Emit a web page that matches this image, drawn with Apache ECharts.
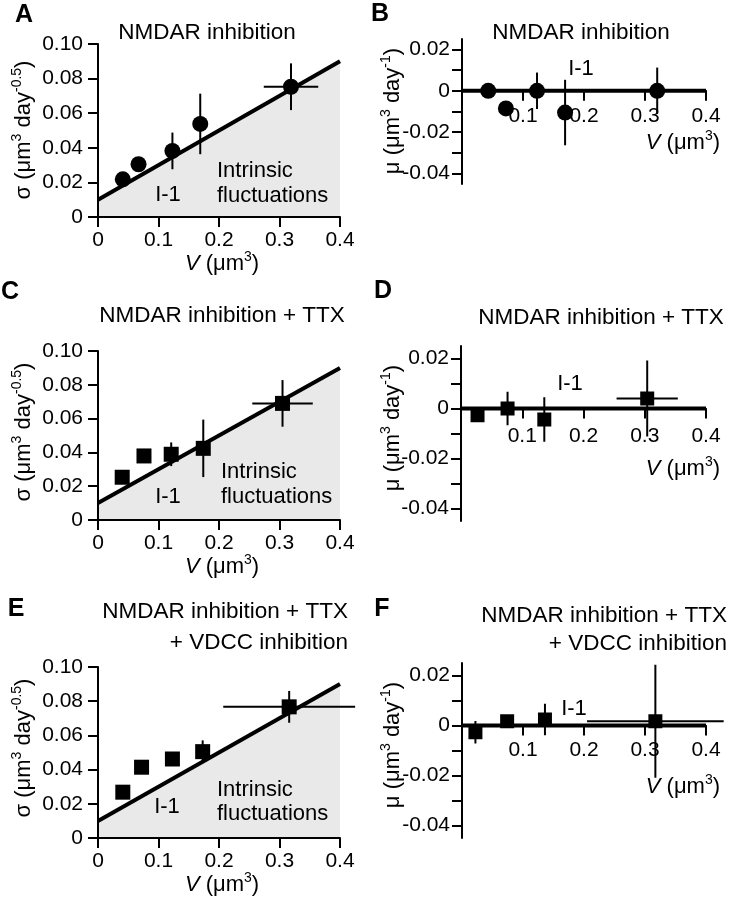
<!DOCTYPE html>
<html lang="en">
<head>
    <meta charset="UTF-8">
    <title>Volume fluctuations</title>
    <script src="https://cdn.jsdelivr.net/npm/echarts@6/dist/echarts.min.js"></script>
    <style>
        body { margin: 0; padding: 0; background: #fff; }
        #main { width: 732px; height: 900px; }
    </style>
</head>
<body>
    <div id="main"></div>
    <script type="text/javascript">
        var FONT = '"Liberation Sans", Arial, sans-serif';

        // I-1 lines
        var fitV = [0, 0.4];
        var fitSigma = [0.01, 0.09];
        var zeroV = [0, 0.4];
        var zeroMu = [0, 0];

        // tick values
        var muLabelTicks = [-0.04, -0.02, 0, 0.02];
        var muTicks = [-0.04, -0.03, -0.02, -0.01, 0, 0.01, 0.02];
        var vMuTicks = [0.1, 0.2, 0.3, 0.4];
        var muMin = -0.045, muMax = 0.025;

        // A: NMDAR inhibition, sigma
        var volA = [0.041, 0.067, 0.123, 0.169, 0.319];
        var sigmaA = [0.0218, 0.0305, 0.0382, 0.0538, 0.0753];
        var sigmaErrA = [0, 0, 0.0106, 0.0175, 0.0135];
        var volErrA = [0, 0, 0, 0, 0.045];

        // B: NMDAR inhibition, mu
        var volB = [0.043, 0.072, 0.123, 0.169, 0.32];
        var muB = [0, -0.0085, 0, -0.0105, 0];
        var muErrB = [0, 0, 0.0088, 0.0158, 0.0112];
        var volErrB = [0, 0, 0, 0, 0];

        // C: + TTX, sigma
        var volC = [0.040, 0.076, 0.121, 0.174, 0.305];
        var sigmaC = [0.0253, 0.0379, 0.0389, 0.0424, 0.069];
        var sigmaErrC = [0, 0, 0.007, 0.017, 0.0138];
        var volErrC = [0, 0, 0, 0, 0.05];

        // D: + TTX, mu
        var volD = [0.027, 0.076, 0.136, 0.304];
        var muD = [-0.0027, 0, -0.0044, 0.004];
        var muErrD = [0.001, 0.0067, 0.0089, 0.0152];
        var volErrD = [0, 0, 0, 0.05];

        // E: + TTX + VDCC, sigma
        var volE = [0.041, 0.072, 0.123, 0.173, 0.316];
        var sigmaE = [0.0268, 0.0414, 0.0462, 0.0505, 0.0767];
        var sigmaErrE = [0, 0, 0.003, 0.0066, 0.0093];
        var volErrE = [0, 0, 0, 0, 0.109];

        // F: + TTX + VDCC, mu
        var volF = [0.022, 0.074, 0.136, 0.317];
        var muF = [-0.0027, 0.0017, 0.0024, 0.0017];
        var muErrF = [0.0045, 0.002, 0.0063, 0.0226];
        var volErrF = [0, 0, 0, 0.112];

        var myChart = echarts.init(document.getElementById('main'));

        function pairs(xs, ys) {
            return xs.map(function (x, i) { return [x, ys[i]]; });
        }

        function fmt(digits) {
            return function (v) { return v === 0 ? '0' : v.toFixed(digits); };
        }

        var grids = [];
        var xAxes = [];
        var yAxes = [];
        var series = [];

        var axisLine = { onZero: false, lineStyle: { color: '#000', width: 2 } };
        var axisTick = { length: 10, lineStyle: { color: '#000', width: 2 } };
        var labelStyle = { color: '#000', fontSize: 21, fontFamily: FONT };

        function sigmaAxes(box, xMargin) {
            grids.push({ left: box[0], top: box[1], width: box[2], height: box[3], outerBoundsMode: 'none' });
            xAxes.push({
                gridIndex: grids.length - 1, type: 'value', min: 0, max: 0.4, interval: 0.1, z: 5,
                axisLine: axisLine, axisTick: axisTick, splitLine: { show: false },
                axisLabel: Object.assign({ margin: xMargin, formatter: fmt(1) }, labelStyle)
            });
            yAxes.push({
                gridIndex: grids.length - 1, type: 'value', min: 0, max: 0.1, interval: 0.02, z: 5,
                axisLine: axisLine, axisTick: axisTick, splitLine: { show: false },
                axisLabel: Object.assign({ margin: 15, formatter: fmt(2) }, labelStyle)
            });
        }

        // the V axis of the mu panels sits on mu = 0
        function muAxes(box, xMargin) {
            grids.push({ left: box[0], top: box[1], width: box[2], height: box[3], outerBoundsMode: 'none' });
            var zeroOffset = -box[3] * (0 - muMin) / (muMax - muMin);
            xAxes.push({
                gridIndex: grids.length - 1, type: 'value', min: 0, max: 0.4, offset: zeroOffset,
                axisLine: axisLine,
                axisTick: Object.assign({ customValues: vMuTicks }, axisTick),
                splitLine: { show: false },
                axisLabel: Object.assign({ margin: xMargin, customValues: vMuTicks, formatter: fmt(1) }, labelStyle)
            });
            yAxes.push({
                gridIndex: grids.length - 1, type: 'value', min: muMin, max: muMax,
                axisLine: axisLine,
                axisTick: Object.assign({ customValues: muTicks }, axisTick),
                splitLine: { show: false },
                axisLabel: Object.assign({ margin: 12, customValues: muLabelTicks, formatter: fmt(2) }, labelStyle)
            });
        }

        function errorBars(gi, xs, ys, xe, ye) {
            return {
                type: 'custom', xAxisIndex: gi, yAxisIndex: gi, silent: true, z: 3, clip: false,
                data: xs.map(function (x, i) { return [x, ys[i], xe[i], ye[i]]; }),
                renderItem: function (params, api) {
                    var x = api.value(0), y = api.value(1), ex = api.value(2), ey = api.value(3);
                    var kids = [];
                    if (ey > 0) {
                        var a = api.coord([x, y - ey]), b = api.coord([x, y + ey]);
                        kids.push({ type: 'line', shape: { x1: a[0], y1: a[1], x2: b[0], y2: b[1] }, style: { stroke: '#000', lineWidth: 2 } });
                    }
                    if (ex > 0) {
                        var c = api.coord([x - ex, y]), d = api.coord([x + ex, y]);
                        kids.push({ type: 'line', shape: { x1: c[0], y1: c[1], x2: d[0], y2: d[1] }, style: { stroke: '#000', lineWidth: 2 } });
                    }
                    return { type: 'group', children: kids };
                }
            };
        }

        function markers(gi, xs, ys, symbol, size) {
            return {
                type: 'scatter', xAxisIndex: gi, yAxisIndex: gi, symbol: symbol, symbolSize: size, z: 4,
                itemStyle: { color: '#000', opacity: 1 }, silent: true,
                data: pairs(xs, ys)
            };
        }

        function fitLine(gi) {
            return {
                type: 'line', xAxisIndex: gi, yAxisIndex: gi, symbol: 'none', silent: true, z: 2,
                lineStyle: { color: '#000', width: 4 },
                areaStyle: { color: '#e9e9e9', opacity: 1, origin: 'start' },
                data: pairs(fitV, fitSigma)
            };
        }

        function zeroLine(gi) {
            return {
                type: 'line', xAxisIndex: gi, yAxisIndex: gi, symbol: 'none', silent: true, z: 2,
                lineStyle: { color: '#000', width: 4 },
                data: pairs(zeroV, zeroMu)
            };
        }

        // A
        sigmaAxes([98, 44, 242, 173], 13);
        series.push(fitLine(0), errorBars(0, volA, sigmaA, volErrA, sigmaErrA), markers(0, volA, sigmaA, 'circle', 16));
        // B
        muAxes([462, 39, 244, 145], 15);
        series.push(zeroLine(1), errorBars(1, volB, muB, volErrB, muErrB), markers(1, volB, muB, 'circle', 16));
        // C
        sigmaAxes([98, 351, 242, 169], 13);
        series.push(fitLine(2), errorBars(2, volC, sigmaC, volErrC, sigmaErrC), markers(2, volC, sigmaC, 'rect', 15));
        // D
        muAxes([461, 346, 245, 175], 17);
        series.push(zeroLine(3), errorBars(3, volD, muD, volErrD, muErrD), markers(3, volD, muD, 'rect', 14));
        // E
        sigmaAxes([98, 667, 242, 171], 13);
        series.push(fitLine(4), errorBars(4, volE, sigmaE, volErrE, sigmaErrE), markers(4, volE, sigmaE, 'rect', 15));
        // F
        muAxes([462, 663, 244, 175], 14);
        series.push(zeroLine(5), errorBars(5, volF, muF, volErrF, muErrF), markers(5, volF, muF, 'rect', 14));

        // texts
        var rich = {
            a: { fontSize: 22, fontFamily: FONT, lineHeight: 28, fill: '#000' },
            v: { fontSize: 22, fontFamily: FONT, fontStyle: 'italic', lineHeight: 28, fill: '#000' },
            s: { fontSize: 14, fontFamily: FONT, verticalAlign: 'top', lineHeight: 14, fill: '#000' }
        };
        var sigmaName = '{a|σ (μm}{s|3}{a| day}{s|-0.5}{a|)}';
        var muName = '{a|μ (μm}{s|3}{a| day}{s|-1}{a|)}';
        var vName = '{v|V}{a| (μm}{s|3}{a|)}';

        function txt(x, y, text, size, align, bold) {
            return {
                type: 'text', x: x, y: y, z: 100, silent: true,
                style: {
                    text: text, fontSize: size, fontFamily: FONT, fontWeight: bold ? 'bold' : 'normal',
                    fill: '#000', align: align || 'center', verticalAlign: 'middle'
                }
            };
        }
        function richTxt(x, y, text, align, rotate) {
            return {
                type: 'text', x: x, y: y, z: 100, rotation: rotate ? Math.PI / 2 : 0, silent: true,
                style: { text: text, rich: rich, align: align || 'center', verticalAlign: 'middle' }
            };
        }

        var graphics = [
            txt(24, 15, 'A', 25, 'center', true),
            txt(380, 14, 'B', 25, 'center', true),
            txt(10, 292, 'C', 25, 'center', true),
            txt(383, 291, 'D', 25, 'center', true),
            txt(16, 609, 'E', 25, 'center', true),
            txt(382, 609, 'F', 25, 'center', true),

            txt(207, 33, 'NMDAR inhibition', 22.5),
            txt(581, 33, 'NMDAR inhibition', 22.5),
            txt(222, 316, 'NMDAR inhibition + TTX', 22.5),
            txt(601, 318, 'NMDAR inhibition + TTX', 22.5),
            txt(348, 612, 'NMDAR inhibition + TTX', 22.5, 'right'),
            txt(348, 643, '+ VDCC inhibition', 22.5, 'right'),
            txt(727, 616, 'NMDAR inhibition + TTX', 22.5, 'right'),
            txt(727, 644, '+ VDCC inhibition', 22.5, 'right'),

            txt(168, 195, 'I-1', 22),
            txt(217, 171, 'Intrinsic', 22, 'left'),
            txt(217, 196, 'fluctuations', 22, 'left'),
            txt(581, 69, 'I-1', 22),
            txt(168, 497, 'I-1', 22),
            txt(221, 472, 'Intrinsic', 22, 'left'),
            txt(221, 497, 'fluctuations', 22, 'left'),
            txt(570, 384, 'I-1', 22),
            txt(167, 807, 'I-1', 22),
            txt(217, 790, 'Intrinsic', 22, 'left'),
            txt(217, 814, 'fluctuations', 22, 'left'),
            txt(574, 709, 'I-1', 22),

            richTxt(24, 130, sigmaName, 'center', true),
            richTxt(24, 432, sigmaName, 'center', true),
            richTxt(24, 748, sigmaName, 'center', true),
            richTxt(393, 111, muName, 'center', true),
            richTxt(393, 428, muName, 'center', true),
            richTxt(393, 745, muName, 'center', true),

            richTxt(222, 264, vName, 'center'),
            richTxt(222, 567, vName, 'center'),
            richTxt(222, 885, vName, 'center'),
            richTxt(720, 143, vName, 'right'),
            richTxt(720, 469, vName, 'right'),
            richTxt(720, 787, vName, 'right')
        ];

        var option = {
            backgroundColor: '#fff',
            animation: false,
            grid: grids,
            xAxis: xAxes,
            yAxis: yAxes,
            series: series,
            graphic: graphics
        };
        myChart.setOption(option);
    </script>
</body>
</html>
